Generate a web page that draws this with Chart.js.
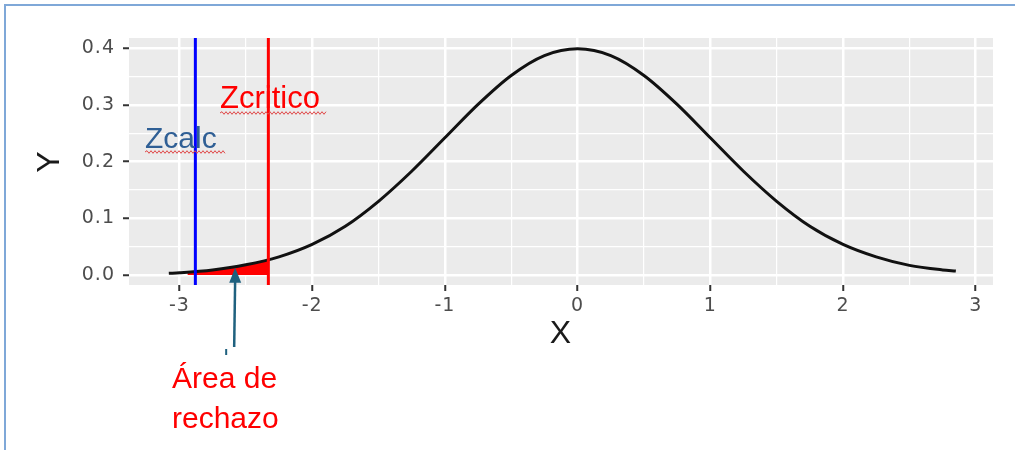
<!DOCTYPE html>
<html>
<head>
<meta charset="utf-8">
<script src="https://cdn.jsdelivr.net/npm/chart.js@4"></script>
<style>
  html, body { margin: 0; padding: 0; background: #fff; overflow: hidden; }
  #wrap { width: 1015px; height: 450px; }
</style>
</head>
<body>
<div id="wrap"><canvas id="normChart" width="1015" height="450"></canvas></div>
<script>
// curve (standard normal density)
var xs = [-3.08, -3.0, -2.75, -2.5, -2.25, -2.0, -1.75, -1.5, -1.25, -1.0, -0.75, -0.5, -0.25, 0,
          0.25, 0.5, 0.75, 1.0, 1.25, 1.5, 1.75, 2.0, 2.25, 2.5, 2.75, 2.85];
var ys = [0.003, 0.004, 0.009, 0.018, 0.032, 0.054, 0.086, 0.130, 0.183, 0.242, 0.301, 0.352, 0.387, 0.399,
          0.387, 0.352, 0.301, 0.242, 0.183, 0.130, 0.086, 0.054, 0.032, 0.017, 0.009, 0.007];

// shaded rejection area
var rejX = [-2.94, -2.75, -2.5, -2.33];
var rejY = [0.005, 0.009, 0.018, 0.026];

// vertical reference lines
var zCalc = -2.88;
var zCrit = -2.33;

// axis ranges
var xMin = -3.38, xMax = 3.13;
var yMin = -0.0176, yMax = 0.418;

// where the arrow points
var arrowX = -2.58, arrowY = 0.013;

function pairs(a, b) {
    return a.map(function(v, i) { return {x: v, y: b[i]}; });
}

function isMajor(v, unit) {
    var k = v / unit;
    return Math.abs(k - Math.round(k)) < 1e-6;
}

function squiggle(ctx, x1, x2, y) {
    ctx.beginPath();
    ctx.moveTo(x1, y);
    var up = true;
    for (var x = x1 + 2; x <= x2; x += 2) {
        ctx.lineTo(x, y + (up ? -1.3 : 1.3));
        up = !up;
    }
    ctx.stroke();
}

var decor = {
    id: 'decor',
    beforeDraw: function(chart) {
        var ctx = chart.ctx, a = chart.chartArea;
        ctx.save();
        ctx.fillStyle = '#EBEBEB';
        ctx.fillRect(a.left, a.top, a.right - a.left, a.bottom - a.top);
        ctx.restore();
        ctx.letterSpacing = '1px';
    },
    beforeDatasetsDraw: function(chart) {
        chart.ctx.letterSpacing = '0px';
    },
    afterDraw: function(chart) {
        var ctx = chart.ctx;
        ctx.save();
        // frame (top and left edges only)
        ctx.strokeStyle = '#7FA8D8';
        ctx.lineWidth = 2;
        ctx.beginPath();
        ctx.moveTo(5, 450);
        ctx.lineTo(5, 5);
        ctx.lineTo(1015, 5);
        ctx.stroke();

        ctx.textBaseline = 'alphabetic';
        ctx.textAlign = 'left';
        ctx.font = '31px "Liberation Sans", Arial, sans-serif';
        ctx.fillStyle = '#FF0000';
        ctx.fillText('Zcritico', 220, 108);
        ctx.fillStyle = '#2F5F95';
        ctx.font = '30px "Liberation Sans", Arial, sans-serif';
        ctx.fillText('Zcalc', 145, 148);

        ctx.strokeStyle = '#E04848';
        ctx.lineWidth = 1;
        squiggle(ctx, 220, 327, 113);
        squiggle(ctx, 145, 225, 152);

        ctx.fillStyle = '#FF0000';
        ctx.font = '30px "Liberation Sans", Arial, sans-serif';
        ctx.fillText('Área de', 172, 388);
        ctx.fillText('rechazo', 172, 428);

        // arrow
        var tx = chart.scales.x.getPixelForValue(arrowX);
        var ty = chart.scales.y.getPixelForValue(arrowY);
        ctx.strokeStyle = '#1F617F';
        ctx.fillStyle = '#1F617F';
        ctx.lineWidth = 2.5;
        ctx.beginPath();
        ctx.moveTo(tx - 1, 347);
        ctx.lineTo(tx, ty + 10);
        ctx.stroke();
        ctx.beginPath();
        ctx.moveTo(tx, ty);
        ctx.lineTo(tx - 6, ty + 15);
        ctx.lineTo(tx + 6, ty + 15);
        ctx.closePath();
        ctx.fill();
        ctx.lineWidth = 2;
        ctx.beginPath();
        ctx.moveTo(tx - 9, 349);
        ctx.lineTo(tx - 9, 355);
        ctx.stroke();
        ctx.restore();
    }
};

var ctx = document.getElementById('normChart').getContext('2d');
var myChart = new Chart(ctx, {
    type: 'line',
    data: {
        datasets: [{
            data: [{x: zCalc, y: yMin}, {x: zCalc, y: yMax}],
            borderColor: '#0000FF',
            borderWidth: 3,
            pointRadius: 0
        }, {
            data: [{x: zCrit, y: yMin}, {x: zCrit, y: yMax}],
            borderColor: '#FF0000',
            borderWidth: 3,
            pointRadius: 0
        }, {
            data: pairs(xs, ys),
            borderColor: '#111111',
            borderWidth: 3,
            pointRadius: 0,
            cubicInterpolationMode: 'monotone'
        }, {
            data: pairs(rejX, rejY),
            borderWidth: 0,
            borderColor: 'rgba(0,0,0,0)',
            backgroundColor: '#FF0000',
            fill: 'origin',
            pointRadius: 0,
            cubicInterpolationMode: 'monotone'
        }]
    },
    options: {
        responsive: false,
        animation: false,
        layout: { padding: { left: 0, right: 22, top: 38, bottom: 95 } },
        plugins: { legend: { display: false }, tooltip: { enabled: false } },
        scales: {
            x: {
                type: 'linear',
                min: xMin,
                max: xMax,
                afterFit: function(s) { s.height = 70; },
                border: { display: false },
                grid: {
                    color: '#FFFFFF',
                    lineWidth: function(c) { return isMajor(c.tick.value, 1) ? 2.5 : 1.2; },
                    tickColor: function(c) { return isMajor(c.tick.value, 1) ? '#333333' : 'rgba(0,0,0,0)'; },
                    tickLength: 6,
                    tickWidth: 2
                },
                ticks: {
                    stepSize: 0.5,
                    includeBounds: false,
                    autoSkip: false,
                    maxRotation: 0,
                    padding: 4,
                    color: '#4D4D4D',
                    font: { family: '"DejaVu Sans"', size: 19 },
                    callback: function(v) { return isMajor(v, 1) ? String(Math.round(v)) : ''; }
                },
                title: {
                    display: true,
                    text: 'X',
                    color: '#1A1A1A',
                    font: { family: '"Liberation Sans"', size: 32 },
                    padding: { top: 0, bottom: 2 }
                }
            },
            y: {
                min: yMin,
                max: yMax,
                afterFit: function(s) { s.width = 129; },
                border: { display: false },
                grid: {
                    color: '#FFFFFF',
                    lineWidth: function(c) { return isMajor(c.tick.value, 0.1) ? 2.5 : 1.2; },
                    tickColor: function(c) { return isMajor(c.tick.value, 0.1) ? '#333333' : 'rgba(0,0,0,0)'; },
                    tickLength: 6,
                    tickWidth: 2
                },
                ticks: {
                    stepSize: 0.05,
                    includeBounds: false,
                    autoSkip: false,
                    padding: 8,
                    color: '#4D4D4D',
                    font: { family: '"DejaVu Sans"', size: 19 },
                    callback: function(v) { return isMajor(v, 0.1) ? v.toFixed(1) : ''; }
                },
                title: {
                    display: true,
                    text: 'Y',
                    color: '#1A1A1A',
                    font: { family: '"Liberation Sans"', size: 32 },
                    padding: { top: 31, bottom: 0 }
                }
            }
        }
    },
    plugins: [decor]
});
</script>
</body>
</html>
